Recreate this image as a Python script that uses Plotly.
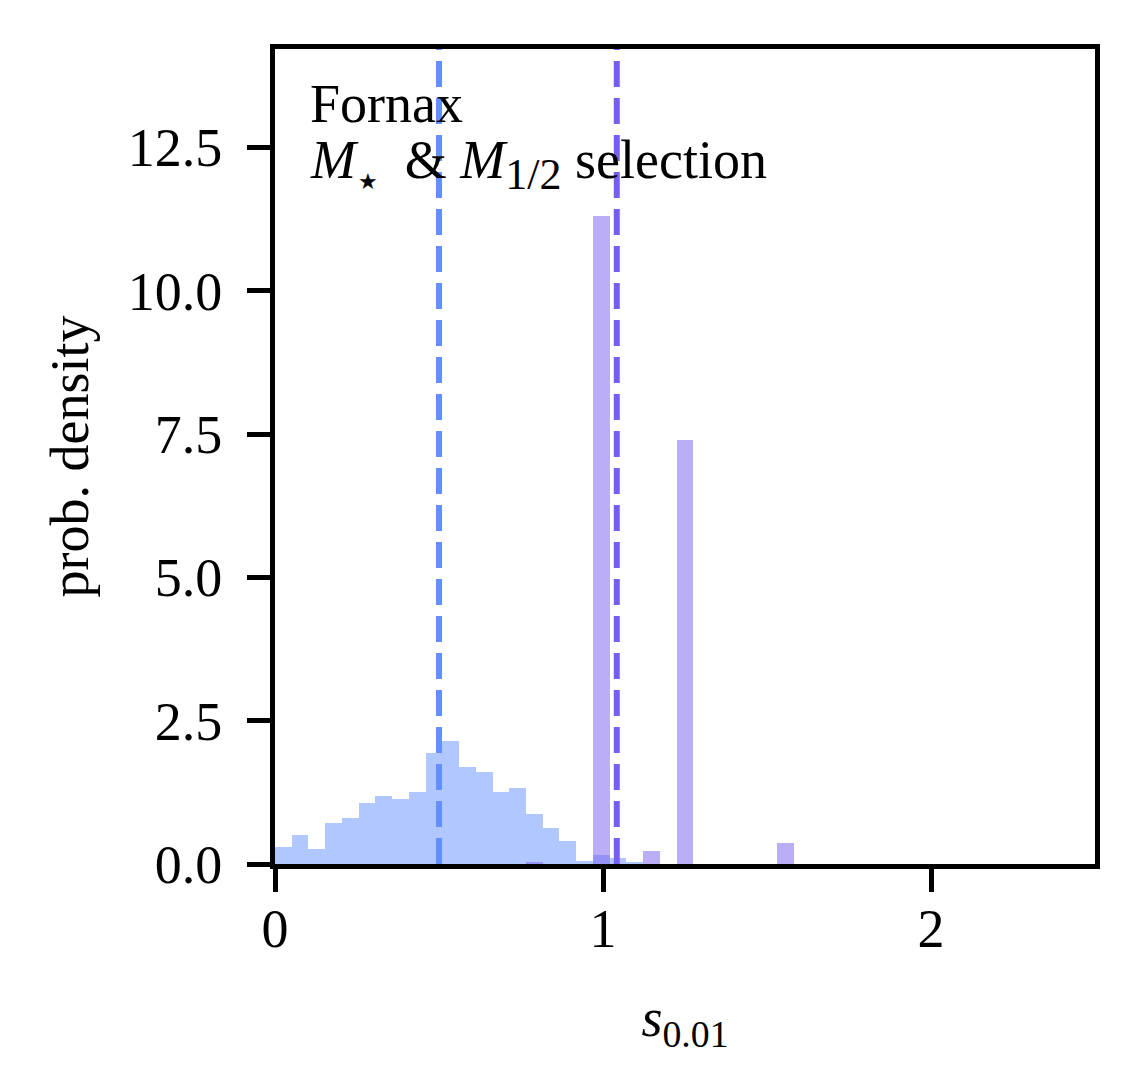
import numpy as np
import plotly.graph_objects as go

# ---- data ----
bin_range = [0.0, 2.5]
n_bins = 49
blue_density = [0.29, 0.51, 0.27, 0.71, 0.81, 1.06, 1.18, 1.14, 1.26, 1.94,
                2.14, 1.69, 1.60, 1.25, 1.32, 0.88, 0.62, 0.41, 0.06, 0.15,
                0.10, 0.03] + [0.0] * 27
purple_density = [0.0] * 15 + [0.03, 0.0, 0.0, 0.0, 11.3, 0.0, 0.0, 0.22, 0.0,
                               7.40, 0.0, 0.0, 0.0, 0.0, 0.0, 0.36] + [0.0] * 18
blue_median = 0.50
purple_median = 1.042
x_ticks = [0, 1, 2]
y_ticks = [0.0, 2.5, 5.0, 7.5, 10.0, 12.5]
label_name = "Fornax"
label_sel = ("<i>M</i><sub><span style=\"font-size:22px\">&#8202;★</span></sub>&nbsp; &amp; "
             "<i>M</i><sub><span style=\"font-size:44px\">1/2</span></sub> selection")

BLUE = "#648FFF"
PURPLE = "#785EF0"

edges = np.linspace(bin_range[0], bin_range[1], n_bins + 1)
centers = 0.5 * (edges[:-1] + edges[1:])
bw = edges[1] - edges[0]

fig = go.Figure()
fig.add_trace(go.Bar(x=centers, y=blue_density, width=bw,
                     marker=dict(color=BLUE, opacity=0.5, line=dict(width=0)),
                     showlegend=False))
fig.add_trace(go.Bar(x=centers, y=purple_density, width=bw,
                     marker=dict(color=PURPLE, opacity=0.5, line=dict(width=0)),
                     showlegend=False))

for xv, col in [(blue_median, BLUE), (purple_median, PURPLE)]:
    fig.add_shape(type="line", xref="x", yref="paper", x0=xv, x1=xv, y0=0, y1=1,
                  line=dict(color=col, width=6, dash="26px,11px"), layer="above")

FONT = "Liberation Serif"
fig.update_layout(
    width=1136, height=1084,
    margin=dict(l=267, r=49, t=41, b=228, pad=0),
    paper_bgcolor="white", plot_bgcolor="white",
    barmode="overlay", bargap=0,
    font=dict(family=FONT, size=54, color="black"),
)
fig.update_xaxes(range=[0, 2.5], tickvals=x_ticks, ticktext=[str(t) for t in x_ticks],
                 showgrid=False, zeroline=False, showline=True, linecolor="black",
                 linewidth=5, mirror=True, ticks="outside", ticklen=23, tickwidth=4.5,
                 tickcolor="black", ticklabelstandoff=-10,
                 title=dict(text="<i>s</i><sub>0.01</sub>", standoff=42,
                            font=dict(family=FONT, size=54)))
fig.update_yaxes(range=[0, 14.22], tickvals=y_ticks, ticktext=[f"{t:.1f}" for t in y_ticks],
                 showgrid=False, zeroline=False, showline=True, linecolor="black",
                 linewidth=5, mirror=True, ticks="outside", ticklen=23, tickwidth=4.5,
                 tickcolor="black", ticklabelstandoff=14,
                 title=dict(text="prob. density", standoff=23,
                            font=dict(family=FONT, size=54)))

fig.add_annotation(xref="paper", yref="paper", x=0.04, y=0.933, xanchor="left",
                   yanchor="middle", text=label_name, showarrow=False,
                   font=dict(family=FONT, size=54))
fig.add_annotation(xref="paper", yref="paper", x=0.04, y=0.858, xanchor="left",
                   yanchor="middle", text=label_sel, showarrow=False,
                   font=dict(family=FONT, size=54))

fig.write_html("out.html")
